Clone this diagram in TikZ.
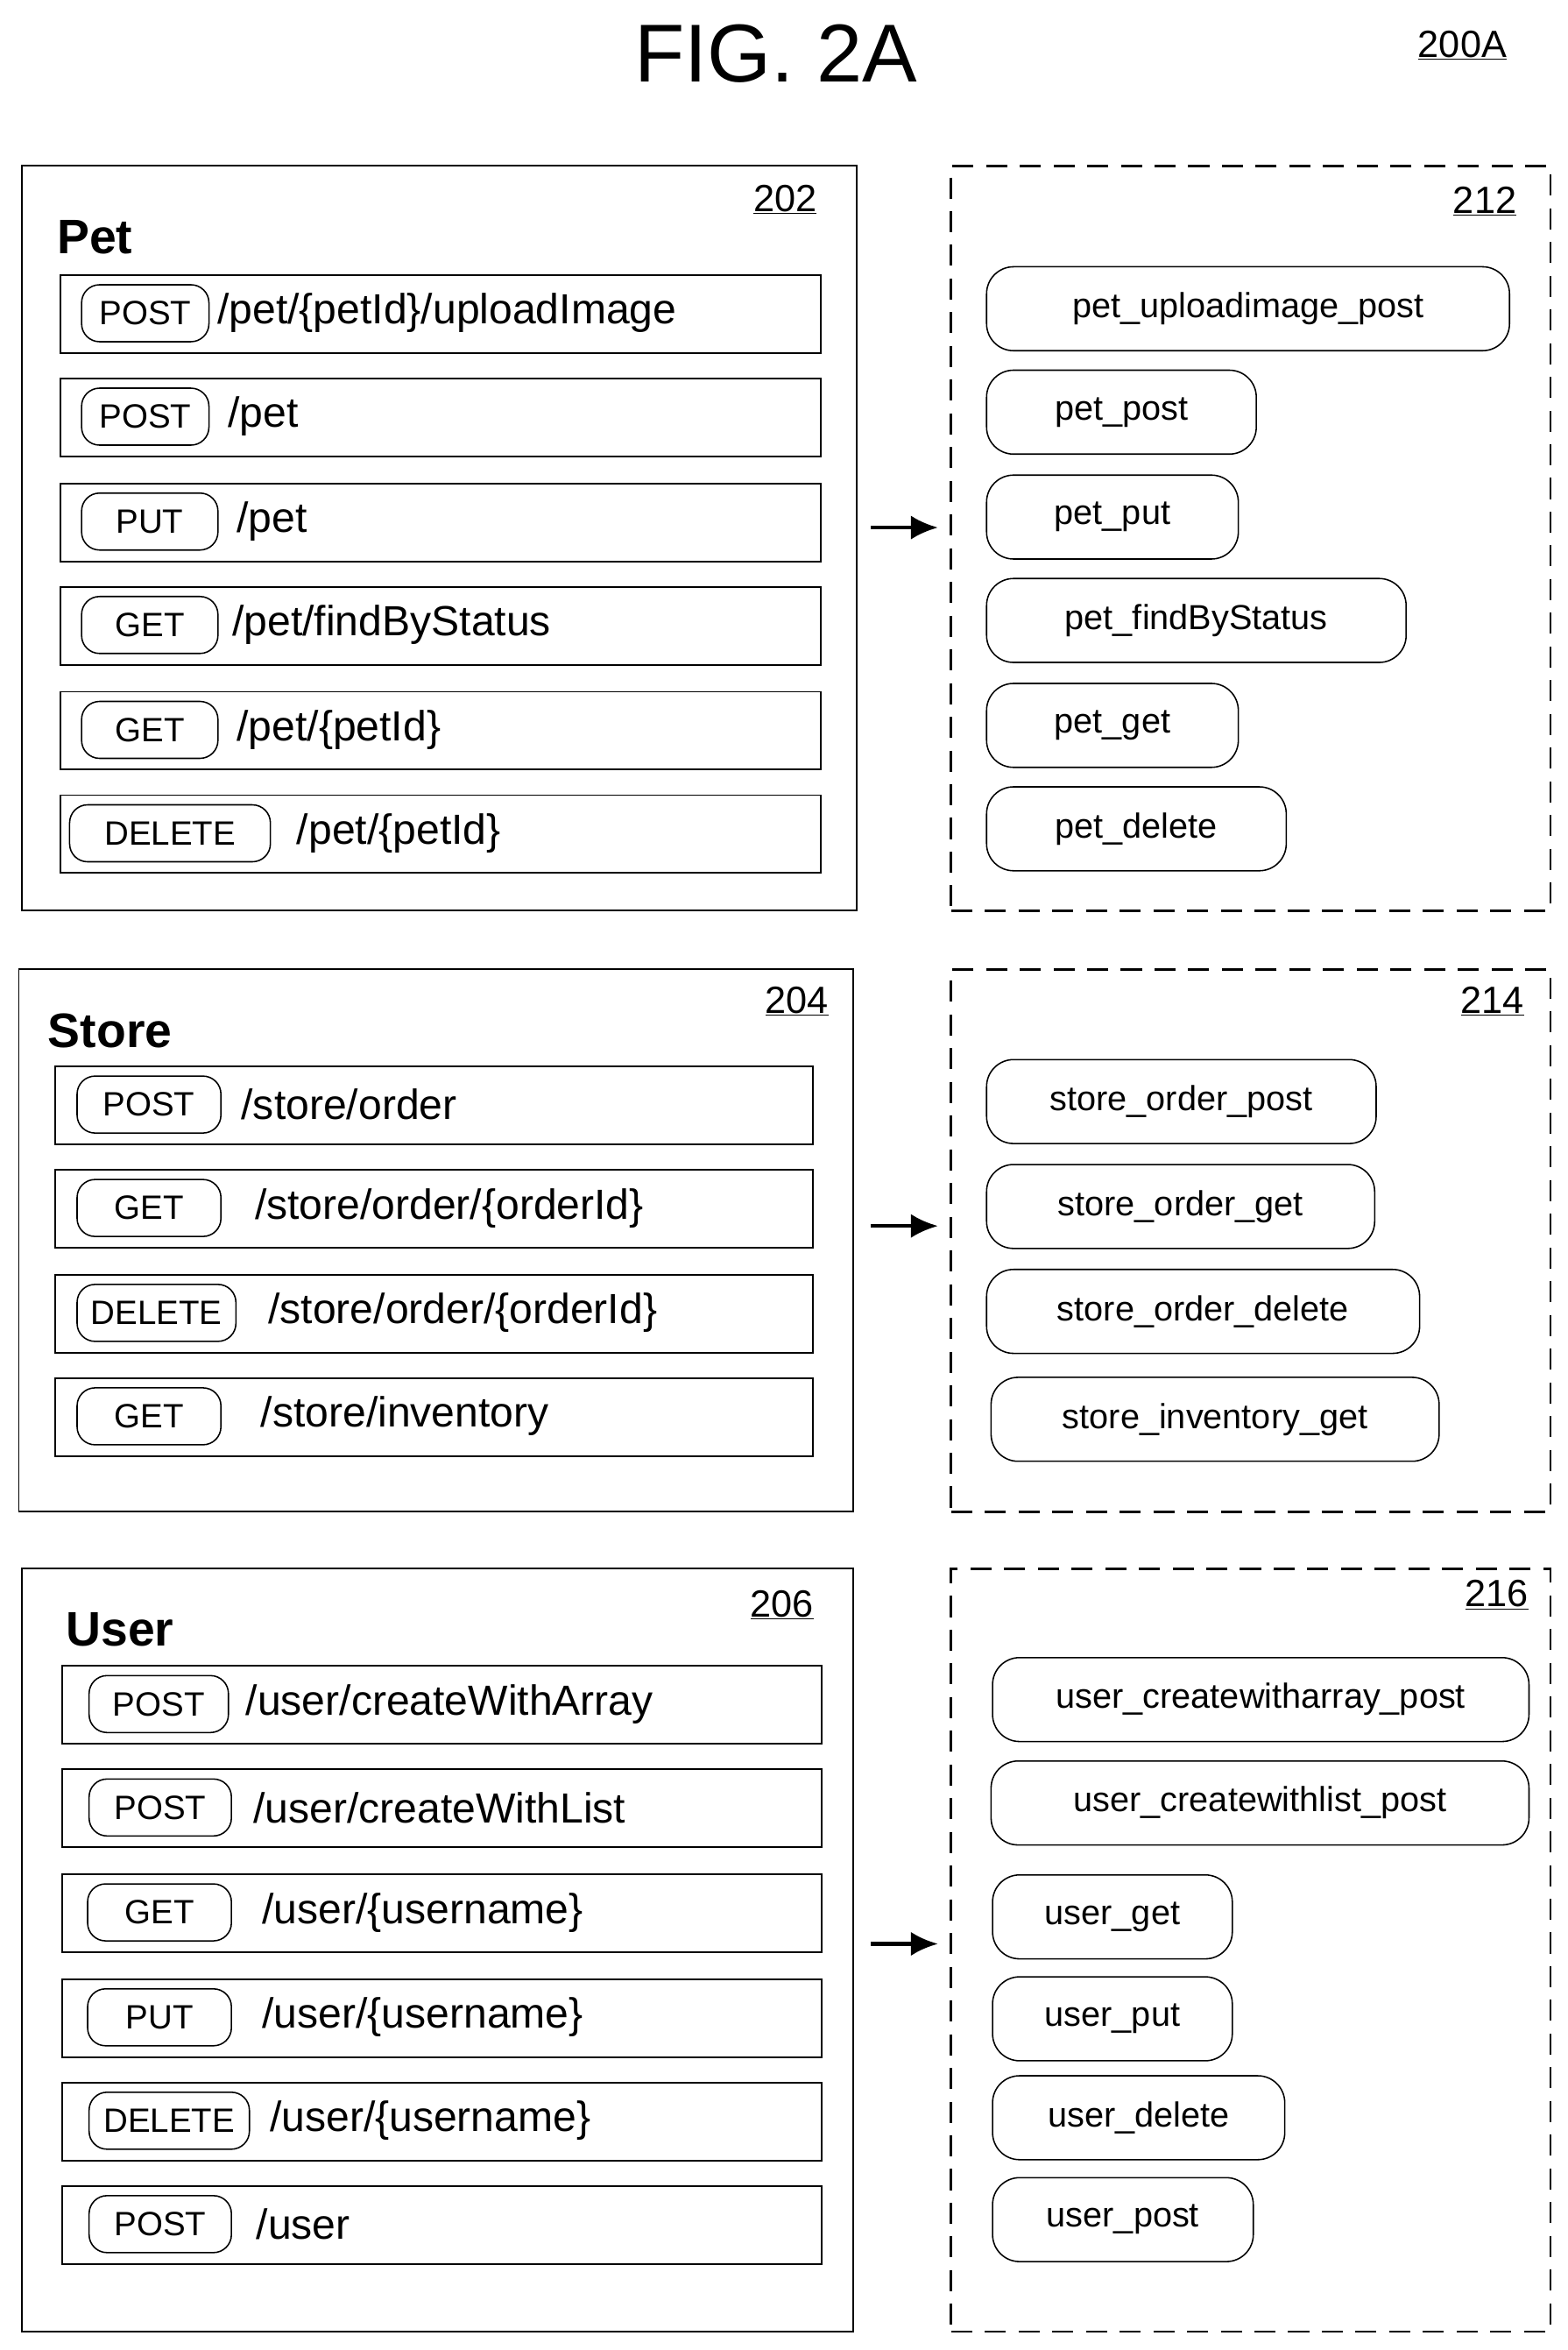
\documentclass[tikz,border=0pt]{standalone}
\usepackage{fontspec}
\setmainfont{Liberation Sans}
\usetikzlibrary{positioning,arrows.meta}

\tikzset{
	panel/.style={draw, line width=1.6pt},
	group/.style={draw, line width=2.2pt, dash pattern=on 20pt off 12pt},
	rowbox/.style={draw, line width=1.6pt, anchor=north west, minimum height=2.6cm, inner sep=0pt},
	meth/.style={draw, line width=1.3pt, rounded corners=0.6cm, minimum height=1.9cm, inner sep=0pt, anchor=west, font=\fontsize{32}{34}\selectfont},
	pathtext/.style={anchor=west, inner sep=0pt, font=\fontsize{40}{42}\selectfont},
	fn/.style={draw, line width=1.3pt, rounded corners=0.9cm, minimum height=2.8cm, inner sep=0pt, anchor=west, font=\fontsize{33}{35}\selectfont},
	ref/.style={font=\fontsize{36}{38}\selectfont, inner sep=1pt},
	head/.style={anchor=west, inner sep=0pt, font=\fontsize{46}{48}\selectfont\bfseries},
	flow/.style={-{Latex[length=0.9cm,width=0.8cm]}, line width=3.5pt},
}

% name, top y, row left, row right, method, pill left, pill right, path x, path
\newcommand\ep[9]{%
	\node[rowbox, minimum width={(#4-#3)*0.05cm}] (#1) at (#3,#2) {};
	\node[meth, minimum width={(#7-#6)*0.05cm}] (#1m) at (#6,#2+26) {#5};
	\node[pathtext] (#1p) at (#8,#2+26) {#9};
}
\newcommand\fnpill[5]{%
	\node[fn, minimum width={(#4-#3)*0.05cm}] (#1) at (#3,#2) {#5};
}

\begin{document}
\begin{tikzpicture}[x=0.05cm, y=-0.05cm]
	\useasboundingbox (0,0) rectangle (1046,1568);
	\node[font=\fontsize{78}{80}\selectfont] (title) at (518,36) {FIG. 2A};
	\node[ref] (fig) at (976,30) {\underline{200A}};

	% Pet
	\node[panel, anchor=north west, minimum width=27.85cm, minimum height=24.85cm] (pet) at (14,110) {};
	\node[ref] (n202) at (524,133) {\underline{202}};
	\node[head] (petlbl) at (38,158) {Pet};
	\ep{p1}{183}{40}{547}{POST}{54}{139}{145}{/pet/\{petId\}/uploadImage}
	\ep{p2}{252}{40}{547}{POST}{54}{139}{152}{/pet}
	\ep{p3}{322}{40}{547}{PUT}{54}{145}{158}{/pet}
	\ep{p4}{391}{40}{547}{GET}{54}{145}{155}{/pet/findByStatus}
	\ep{p5}{461}{40}{547}{GET}{54}{145}{158}{/pet/\{petId\}}
	\ep{p6}{530}{40}{547}{DELETE}{46}{180}{198}{/pet/\{petId\}}

	% Store
	\node[panel, anchor=north west, minimum width=27.85cm, minimum height=18.1cm] (store) at (12,646) {};
	\node[ref] (n204) at (532,668) {\underline{204}};
	\node[head] (storelbl) at (32,688) {Store};
	\ep{s1}{711}{36}{542}{POST}{51}{147}{161}{/store/order}
	\ep{s2}{780}{36}{542}{GET}{51}{147}{170}{/store/order/\{orderId\}}
	\ep{s3}{850}{36}{542}{DELETE}{51}{157}{179}{/store/order/\{orderId\}}
	\ep{s4}{919}{36}{542}{GET}{51}{147}{174}{/store/inventory}

	% User
	\node[panel, anchor=north west, minimum width=27.75cm, minimum height=25.45cm] (user) at (14,1046) {};
	\node[ref] (n206) at (522,1071) {\underline{206}};
	\node[head] (userlbl) at (44,1087) {User};
	\ep{u1}{1111}{41}{548}{POST}{59}{152}{164}{/user/createWithArray}
	\ep{u2}{1180}{41}{548}{POST}{59}{154}{169}{/user/createWithList}
	\ep{u3}{1250}{41}{548}{GET}{58}{154}{175}{/user/\{username\}}
	\ep{u4}{1320}{41}{548}{PUT}{58}{154}{175}{/user/\{username\}}
	\ep{u5}{1389}{41}{548}{DELETE}{59}{166}{180}{/user/\{username\}}
	\ep{u6}{1458}{41}{548}{POST}{59}{154}{171}{/user}

	% generated functions
	\node[group, anchor=north west, minimum width=20cm, minimum height=24.85cm] (g1) at (634,110) {};
	\node[ref] (n212) at (991,134) {\underline{212}};
	\fnpill{f1}{206}{658}{1007}{pet\_uploadimage\_post}
	\fnpill{f2}{275}{658}{838}{pet\_post}
	\fnpill{f3}{345}{658}{826}{pet\_put}
	\fnpill{f4}{414}{658}{938}{pet\_findByStatus}
	\fnpill{f5}{484}{658}{826}{pet\_get}
	\fnpill{f6}{553}{658}{858}{pet\_delete}

	\node[group, anchor=north west, minimum width=20cm, minimum height=18.1cm] (g2) at (634,646) {};
	\node[ref] (n214) at (996,668) {\underline{214}};
	\fnpill{f7}{735}{658}{918}{store\_order\_post}
	\fnpill{f8}{805}{658}{917}{store\_order\_get}
	\fnpill{f9}{875}{658}{947}{store\_order\_delete}
	\fnpill{f10}{947}{661}{960}{store\_inventory\_get}

	\node[group, anchor=north west, minimum width=20cm, minimum height=25.45cm] (g3) at (634,1046) {};
	\node[ref] (n216) at (999,1064) {\underline{216}};
	\fnpill{f11}{1134}{662}{1020}{user\_createwitharray\_post}
	\fnpill{f12}{1203}{661}{1020}{user\_createwithlist\_post}
	\fnpill{f13}{1279}{662}{822}{user\_get}
	\fnpill{f14}{1347}{662}{822}{user\_put}
	\fnpill{f15}{1413}{662}{857}{user\_delete}
	\fnpill{f16}{1481}{662}{836}{user\_post}

	\coordinate (a1) at (581,352);
	\coordinate (b1) at (626,352);
	\coordinate (a2) at (581,818);
	\coordinate (b2) at (626,818);
	\coordinate (a3) at (581,1297);
	\coordinate (b3) at (626,1297);
	\draw[flow] (a1) -- (b1);
	\draw[flow] (a2) -- (b2);
	\draw[flow] (a3) -- (b3);
\end{tikzpicture}
\end{document}
